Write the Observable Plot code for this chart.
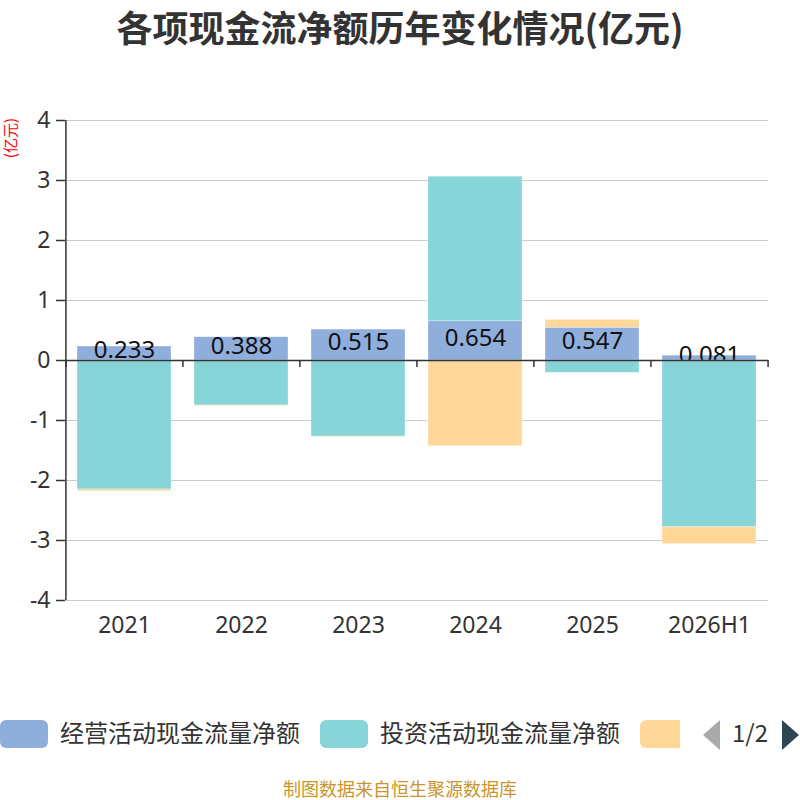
<!DOCTYPE html>
<html><head><meta charset="utf-8">
<script src="https://cdn.jsdelivr.net/npm/d3@7"></script>
<script src="https://cdn.jsdelivr.net/npm/@observablehq/plot@0.6"></script>
<style>
body{margin:0;background:#fff;font-family:"Noto Sans CJK SC","Noto Sans",sans-serif;}
#wrap{position:relative;width:800px;height:800px;overflow:hidden;background:#fff;}
#title{position:absolute;top:0px;left:0;width:800px;text-align:center;font-size:36px;font-weight:bold;color:#333;}
#unit{position:absolute;left:2px;top:118px;writing-mode:vertical-rl;text-orientation:sideways;transform:rotate(180deg);font-size:15px;line-height:16px;color:#f00;white-space:nowrap;}
#chart{position:absolute;top:0;left:0;}
.leg{position:absolute;top:720px;height:28px;border-radius:6px;}
.legt{position:absolute;top:714px;font-size:24px;color:#333;white-space:nowrap;}
#pg{position:absolute;left:732px;top:714px;font-size:24px;color:#333;}
#foot{position:absolute;top:775px;left:0;width:800px;text-align:center;font-size:18px;color:#c9952c;}
</style></head>
<body><div id="wrap">
<div id="title">各项现金流净额历年变化情况(亿元)</div>
<div id="chart"></div>
<div id="unit">(亿元)</div>
<div class="leg" style="left:0;width:48px;background:#8FAEDC"></div>
<div class="legt" style="left:60px">经营活动现金流量净额</div>
<div class="leg" style="left:320px;width:48px;background:#87D5D9"></div>
<div class="legt" style="left:380px">投资活动现金流量净额</div>
<div class="leg" style="left:640px;width:40px;background:#FFD899;border-radius:6px 0 0 6px"></div>
<svg style="position:absolute;left:700px;top:719px" width="22" height="32"><polygon points="20,1 20,31 3,16" fill="#aaa"/></svg>
<div id="pg">1/2</div>
<svg style="position:absolute;left:780px;top:719px" width="22" height="32"><polygon points="2,1 2,31 19,16" fill="#2f4554"/></svg>
<div id="foot">制图数据来自恒生聚源数据库</div>
</div>
<script>
const years = ["2021","2022","2023","2024","2025","2026H1"];
const seriesNames = ["经营活动现金流量净额","投资活动现金流量净额","筹资活动现金流量净额"];
const operating = [0.233, 0.388, 0.515, 0.654, 0.547, 0.081];
const investing = [-2.15, -0.75, -1.27, 2.41, -0.205, -2.78];
const financing = [-0.03, -0.01, -0.005, -1.43, 0.13, -0.28];
const colors = ["#8FAEDC","#87D5D9","#FFD899"];
const yTicks = [-4,-3,-2,-1,0,1,2,3,4];

const data = [];
years.forEach((yr,i)=>{
  data.push({year:yr, series:seriesNames[0], value:operating[i]});
  data.push({year:yr, series:seriesNames[1], value:investing[i]});
  data.push({year:yr, series:seriesNames[2], value:financing[i]});
});
const labels = years.map((yr,i)=>({year:yr, value:operating[i]}));

const W = 800, mL = 65, mR = 32;
const step = (W - mL - mR) / years.length;

const barOpts = (first) => Plot.stackY({
  x:"year", y:"value", fill:"series",
  fillOpacity: d => (d.series===seriesNames[0]) === first ? 1 : 0,
  stroke: d => (d.series===seriesNames[0]) === first ? "#ffffff" : "none",
  strokeOpacity: 0.5, strokeWidth: 0.6
});

const chart = Plot.plot({
  width: W, height: 660,
  marginTop: 120, marginBottom: 60, marginLeft: mL, marginRight: mR,
  style: {fontFamily: '"Noto Sans","Noto Sans CJK SC",sans-serif', background:"transparent"},
  x: {domain: years, paddingInner: 0.2, paddingOuter: 0.1, label: null},
  y: {domain: [-4,4], label: null},
  color: {domain: seriesNames, range: colors},
  marks: [
    Plot.gridY(yTicks, {stroke:"#cccccc", strokeOpacity:1, strokeWidth:1.2}),
    Plot.axisY(yTicks, {tickSize:9, tickPadding:6, fontSize:23, color:"#333", stroke:"#333", strokeWidth:1.5, tickFormat: d=>String(d)}),
    Plot.ruleX([0], {x: () => years[0], dx: -step/2, y1: -4, y2: 4, stroke:"#333", strokeWidth:1.5}),
    Plot.axisX({tickSize:0, tickPadding:16, fontSize:23, color:"#333"}),
    Plot.barY(data, barOpts(true)),
    Plot.text(labels, {x:"year", y: d => d.value/2, text: d => d.value.toFixed(3), fontSize:24, fill:"#111", dy:-3}),
    Plot.barY(data, barOpts(false)),
    Plot.ruleY([0], {stroke:"#333", strokeWidth:1.5}),
    Plot.ruleX(years, {x: d=>d, y1:0, y2:0, dx: -step/2, insetBottom:-7, stroke:"#333", strokeWidth:1.5}),
    Plot.ruleX([years[years.length-1]], {x: d=>d, y1:0, y2:0, dx: step/2, insetBottom:-7, stroke:"#333", strokeWidth:1.5})
  ]
});
document.getElementById("chart").appendChild(chart);
</script>
</body></html>
